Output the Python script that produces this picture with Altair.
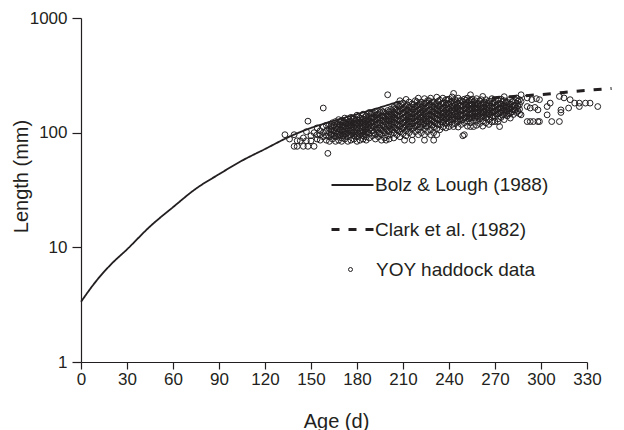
import altair as alt
import pandas as pd

# ---- data ----
bolz_age = [0, 10, 20, 30, 45, 60, 75, 90, 105, 120, 135, 150, 165, 180, 195, 208]
bolz_len = [3.35, 5.1, 7.2, 9.6, 15.2, 22.4, 32.5, 43.4, 57, 72, 91, 110, 127, 145, 166, 188]

clark_age = [268, 280, 290, 300, 310, 320, 330, 346]
clark_len = [201, 206, 210, 215, 221, 228, 234, 243]

yoy = {
    133: [96], 136: [88], 139: [96, 76], 141: [76, 85], 143: [85], 145: [76, 90],
    147: [85, 102], 148: [76, 126], 150: [85, 94], 152: [76, 100], 154: [88, 96, 110],
    156: [96, 86, 104], 158: [164, 92, 100, 112], 160: [116, 86, 94, 104], 161: [66],
    162: [84, 92, 100, 108, 118], 163: [96, 106, 114],
    164: [88, 96, 104, 112, 122], 165: [94, 104, 116],
    166: [84, 92, 100, 110, 125], 167: [98, 108, 118],
    168: [86, 94, 102, 112, 120, 130], 169: [96, 106, 116, 124],
    170: [84, 90, 98, 106, 116, 128], 171: [94, 102, 112, 122],
    172: [88, 96, 104, 114, 124, 134], 173: [98, 108, 118, 128],
    174: [84, 92, 100, 110, 120, 132], 175: [96, 104, 114, 124],
    176: [86, 96, 106, 116, 126, 136], 177: [100, 110, 120, 130],
    178: [88, 94, 102, 112, 122, 132], 179: [96, 106, 116, 126],
    180: [84, 92, 100, 110, 120, 130, 142], 181: [98, 108, 118, 128, 138],
    182: [86, 96, 104, 114, 124, 134], 183: [100, 110, 120, 130],
    184: [88, 94, 102, 112, 122, 132, 145], 185: [96, 106, 116, 126, 136],
    186: [86, 92, 100, 108, 118, 128, 140], 187: [102, 112, 122, 132],
    188: [90, 98, 106, 116, 126, 138, 150], 189: [110, 121, 133, 145],
    190: [94, 104, 114, 124, 134, 146], 191: [100, 112, 124, 136, 148],
    192: [88, 96, 108, 118, 130, 142, 152], 193: [106, 118, 130, 142],
    194: [92, 100, 110, 122, 134, 146], 195: [98, 110, 122, 134, 150],
    196: [86, 96, 106, 116, 128, 140, 155], 197: [104, 116, 128, 140, 152],
    198: [90, 100, 112, 124, 136, 150], 199: [86, 108, 120, 132, 146],
    200: [94, 104, 116, 128, 140, 156, 214], 201: [88, 102, 114, 126, 138, 152],
    202: [96, 108, 120, 132, 146, 160], 203: [106, 118, 130, 142, 156],
    204: [90, 100, 112, 124, 136, 150, 166], 205: [110, 122, 134, 146, 162],
    206: [96, 106, 118, 130, 142, 158, 176], 207: [104, 116, 128, 140, 154, 170],
    208: [92, 102, 114, 126, 140, 154, 170, 190], 209: [108, 120, 132, 146, 160, 176],
    210: [98, 110, 122, 134, 148, 162, 182], 211: [86, 112, 124, 136, 150, 166],
    212: [94, 104, 116, 128, 140, 156, 172, 195], 213: [108, 120, 132, 144, 158, 174],
    214: [100, 112, 124, 136, 150, 166, 185], 215: [114, 126, 138, 152, 168],
    216: [86, 96, 108, 120, 132, 146, 160, 178], 217: [110, 122, 134, 146, 160, 176],
    218: [102, 114, 126, 138, 152, 168, 190], 219: [116, 128, 140, 154, 170, 186],
    220: [96, 106, 118, 130, 144, 158, 175, 200], 221: [112, 124, 136, 148, 162, 178],
    222: [100, 112, 124, 136, 150, 166, 185], 223: [118, 130, 142, 156, 172],
    224: [86, 96, 108, 120, 132, 146, 162, 180, 198], 225: [114, 126, 138, 150, 166, 182],
    226: [102, 114, 126, 140, 154, 170, 190], 227: [120, 132, 144, 158, 174, 190],
    228: [96, 106, 118, 130, 144, 158, 176, 200], 229: [116, 128, 140, 152, 168, 184],
    230: [86, 100, 112, 124, 138, 152, 168, 186], 231: [122, 134, 146, 160, 176],
    232: [96, 108, 120, 132, 146, 162, 180, 204], 233: [118, 130, 142, 154, 170, 188],
    234: [106, 118, 130, 142, 156, 170, 192], 235: [124, 136, 148, 162, 178],
    236: [112, 124, 136, 148, 164, 182, 200], 237: [128, 140, 152, 166, 182],
    238: [110, 120, 132, 144, 158, 174, 194], 239: [126, 138, 150, 164, 180, 194],
    240: [113, 124, 136, 148, 162, 178, 196], 241: [130, 142, 154, 168, 184],
    242: [118, 130, 142, 156, 170, 188, 205], 243: [220, 113, 136, 150, 164, 180],
    244: [120, 132, 146, 160, 176, 194], 245: [128, 140, 154, 168, 186],
    246: [112, 126, 138, 150, 164, 180, 200], 247: [132, 144, 158, 172, 190],
    248: [118, 128, 142, 156, 172, 190], 249: [94, 130, 142, 156, 170, 186],
    250: [122, 134, 148, 162, 178, 196, 96], 251: [136, 148, 162, 176, 192],
    252: [114, 126, 138, 152, 166, 184, 200], 253: [132, 144, 158, 172, 188],
    254: [113, 122, 134, 146, 160, 176, 192, 214], 255: [138, 150, 164, 178, 196],
    256: [113, 128, 140, 154, 168, 186], 257: [134, 146, 160, 174, 190],
    258: [116, 126, 138, 150, 164, 180, 198], 259: [140, 152, 166, 180],
    260: [120, 132, 144, 158, 172, 190], 261: [136, 148, 162, 176, 194],
    262: [114, 126, 138, 152, 166, 182, 207], 263: [142, 154, 168, 184],
    264: [122, 134, 146, 160, 176, 194], 265: [138, 150, 164, 180],
    266: [118, 130, 146, 158, 172, 188], 267: [144, 156, 170, 188],
    268: [124, 136, 150, 164, 180, 198], 269: [140, 152, 166, 182],
    270: [125, 140, 154, 168, 184], 271: [146, 158, 174],
    272: [125, 132, 146, 160, 176, 194], 273: [113, 150, 164, 180],
    274: [136, 150, 164, 178, 196], 275: [142, 156, 170, 188],
    276: [130, 144, 158, 172, 190, 206], 277: [150, 166, 182],
    278: [140, 154, 168, 184], 279: [146, 160, 176],
    280: [134, 148, 162, 178, 196], 281: [152, 168, 186],
    282: [144, 158, 172, 188], 283: [158, 174],
    284: [150, 164, 180, 200], 285: [154, 170, 188],
    286: [146, 160, 176, 194], 287: [214, 187, 143],
    291: [201, 169, 125], 293: [164, 125], 294: [194], 295: [125], 296: [166],
    297: [198], 298: [158, 125], 299: [194, 125], 304: [169, 143], 306: [181],
    307: [125], 312: [207, 125], 313: [158, 150], 315: [201], 318: [164], 319: [194],
    322: [181], 325: [169, 181], 329: [181], 332: [181], 337: [169],
}

x_ticks = list(range(0, 331, 30))
y_ticks = [1, 10, 100, 1000]
line_names = ["Bolz & Lough (1988)", "Clark et al. (1982)"]
point_name = "YOY haddock data"

# ---- tables ----
lines_df = pd.DataFrame({
    "age": bolz_age + clark_age,
    "length": bolz_len + clark_len,
    "series": [line_names[0]] * len(bolz_age) + [line_names[1]] * len(clark_age),
})
pts_df = pd.DataFrame(
    [(a, l) for a, ls in yoy.items() for l in ls], columns=["age", "length"]
)
pts_df["kind"] = point_name

ink = "#231f20"
font = "Liberation Sans"

x_enc = alt.X(
    "age:Q",
    scale=alt.Scale(domain=[0, 330], nice=False, zero=False),
    axis=alt.Axis(values=x_ticks, title="Age (d)", tickSize=7, labelPadding=2,
                  labelFlush=False, titleX=255, titleY=65, titleBaseline="alphabetic"),
)
y_enc = alt.Y(
    "length:Q",
    scale=alt.Scale(type="log", domain=[1, 1000], nice=False),
    axis=alt.Axis(values=y_ticks, format="d", title="Length (mm)", tickSize=9,
                  labelPadding=5, labelFlush=False, titleX=-54, titleY=158,
                  titleAngle=270, titleBaseline="alphabetic", titleAlign="center"),
)

line_legend = alt.Legend(
    orient="none", legendX=249, legendY=145, title=None,
    symbolType="stroke", symbolSize=1764, symbolStrokeColor=ink,
    labelFont=font, labelFontSize=19, labelColor=ink, labelOffset=0,
    labelLimit=0, rowPadding=12, padding=0,
)

lines = alt.Chart(lines_df).mark_line(color=ink, interpolate="monotone").encode(
    x=x_enc,
    y=y_enc,
    strokeDash=alt.StrokeDash(
        "series:N",
        scale=alt.Scale(domain=line_names, range=[[1, 0], [8, 9]]),
        legend=line_legend,
    ),
    strokeWidth=alt.StrokeWidth(
        "series:N",
        scale=alt.Scale(domain=line_names, range=[1.8, 3]),
        legend=line_legend,
    ),
)

points = alt.Chart(pts_df).mark_point(
    filled=False, color=ink, size=34, strokeWidth=1, opacity=1
).encode(
    x=x_enc,
    y=y_enc,
    shape=alt.Shape(
        "kind:N",
        scale=alt.Scale(domain=[point_name], range=["circle"]),
        legend=alt.Legend(
            orient="none", legendX=260, legendY=242, title=None,
            symbolSize=16, symbolStrokeColor=ink, symbolStrokeWidth=1,
            symbolFillColor="white",
            labelFont=font, labelFontSize=19, labelColor=ink, labelOffset=16,
            labelLimit=0, padding=0,
        ),
    ),
)

chart = (
    alt.layer(points, lines)
    .properties(
        width=506, height=344,
        autosize=alt.AutoSizeParams(type="none"),
        padding={"left": 81, "top": 18, "right": 37, "bottom": 68},
        background="white",
    )
    .configure_view(stroke=None)
    .configure_axis(
        grid=False, domainColor=ink, domainWidth=1.2, tickColor=ink, tickWidth=1.2,
        labelFont=font, labelFontSize=17, labelColor=ink,
        titleFont=font, titleFontSize=20, titleFontWeight="normal", titleColor=ink,
    )
)

chart.save("out.html", embed_options={"renderer": "svg", "actions": False})
